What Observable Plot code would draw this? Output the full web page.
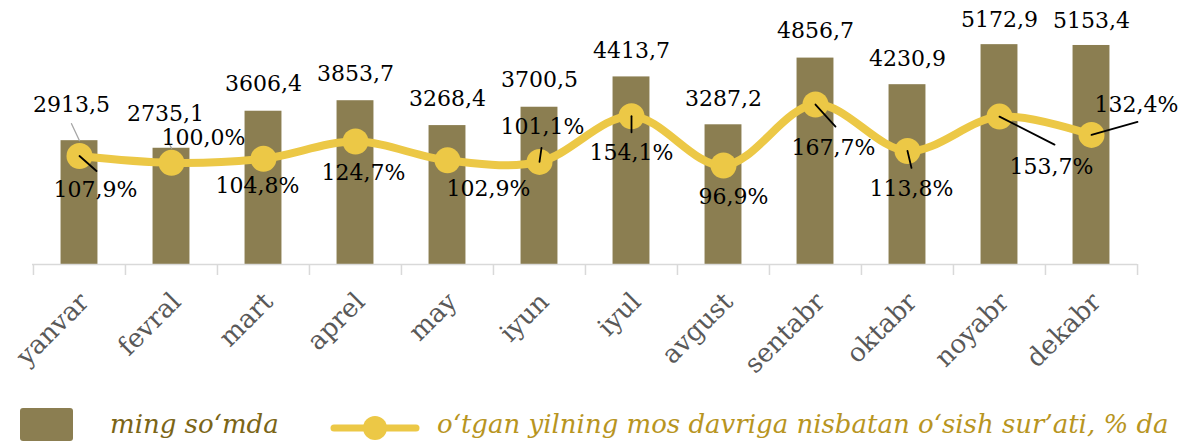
<!DOCTYPE html>
<html>
<head>
<meta charset="utf-8">
<script src="https://cdn.jsdelivr.net/npm/d3@7"></script>
<script src="https://cdn.jsdelivr.net/npm/@observablehq/plot@0.6"></script>
<style>
  html, body { margin: 0; padding: 0; background: #fff; }
  #wrap { position: relative; width: 1185px; height: 446px; overflow: hidden; }
  #chart { position: absolute; left: 0; top: 0; }
  .lg { position: absolute; font-family: "DejaVu Serif", serif; font-style: italic; font-size: 26px; line-height: 30px; white-space: nowrap; }
</style>
</head>
<body>
<div id="wrap">
  <div id="chart"></div>
  <div style="position:absolute;left:20px;top:408px;width:53px;height:33px;background:#8b7e51;border-radius:3px;"></div>
  <div class="lg" id="lg1" style="left:110px;top:409px;color:#7b6516;"></div>
  <svg style="position:absolute;left:330px;top:414px;" width="92" height="28">
    <line x1="4" y1="14" x2="86" y2="14" stroke="#ecc846" stroke-width="7" stroke-linecap="round"/>
    <circle cx="45" cy="14" r="12" fill="#ecc846"/>
  </svg>
  <div class="lg" id="lg2" style="left:437px;top:409px;color:#b8951f;"></div>
</div>
<script>
// ---- data ----
const months = ["yanvar", "fevral", "mart", "aprel", "may", "iyun", "iyul", "avgust", "sentabr", "oktabr", "noyabr", "dekabr"];
const values = [2913.5, 2735.1, 3606.4, 3853.7, 3268.4, 3700.5, 4413.7, 3287.2, 4856.7, 4230.9, 5172.9, 5153.4];
const growth = [107.9, 100.0, 104.8, 124.7, 102.9, 101.1, 154.1, 96.9, 167.7, 113.8, 153.7, 132.4];
const seriesBar = "ming so‘mda";
const seriesLine = "o‘tgan yilning mos davriga nisbatan o‘sish sur’ati, % da";

// ---- layout (label placement, pixels) ----
const barLabelOffset = [[-8, -36], [-6, -34], [0, -27], [0, -27], [0, -27], [0, -27], [0, -26], [0, -26], [0, -27], [0, -26], [0, -25], [0, -25]];
const barLeader = [[-8, -17], [-2, -4], null, null, null, null, null, null, null, null, null, null];
const pctLabelOffset = [[16, 34], [32, -25], [-6, 27], [8, 31], [41, 29], [3, -35], [0, 37], [10, 31], [18, 43], [4, 38], [52, 50], [45, -30]];
const pctLeader = [[17, 15], null, null, null, null, [2, -14], [0, 16], null, [20, 22], [4, 17], [55, 28], [46, -13]];

document.getElementById("lg1").textContent = seriesBar;
document.getElementById("lg2").textContent = seriesLine;

const W = 1185, H = 395;
const mL = 32, mR = 48, mT = 9, mB = H - 264;
const YMAX = 6000;
// secondary axis (percent) mapped onto the primary domain
const P0 = -18, P1 = 278;
const toPrimary = p => (p - P0) / (P1 - P0) * YMAX;

const rows = months.map((m, i) => ({m, v: values[i], g: growth[i], gy: toPrimary(growth[i]), i}));
const fmt = d => d3.format(".1f")(d).replace(".", ",");
const bw = (W - mL - mR) / months.length;
const font = "DejaVu Serif";
const lineShape = {draw(ctx, l) { ctx.moveTo(0, 0); ctx.lineTo(0, -l); }};

const marks = [
  Plot.barY(rows, {x: "m", y: "v", fill: "#8b7e51", insetLeft: (bw - 37) / 2, insetRight: (bw - 37) / 2}),
  Plot.ruleY([0], {stroke: "#d9d9d9", strokeWidth: 1.5}),
  Plot.axisX({label: null, tickSize: 11, tickFormat: () => "", dx: -bw / 2, stroke: "#d9d9d9", strokeWidth: 1.5}),
  Plot.axisX({label: null, ticks: ["dekabr"], tickSize: 11, tickFormat: () => "", dx: bw / 2, stroke: "#d9d9d9", strokeWidth: 1.5}),
  Plot.axisX({label: null, tickSize: 0, tickRotate: -45, tickPadding: 33, dx: 5, fontSize: 26, fontFamily: font, fill: "#595959"}),
  Plot.line(rows, {x: "m", y: "gy", stroke: "#ecc846", strokeWidth: 8, curve: "catmull-rom"}),
  Plot.dot(rows, {x: "m", y: "gy", r: 13, fill: "#ecc846"})
];

rows.forEach((r, i) => {
  const [bdx, bdy] = barLabelOffset[i];
  marks.push(Plot.text([r], {x: "m", y: "v", text: d => fmt(d.v), dx: bdx, dy: bdy, fontSize: 22, fontFamily: font, fill: "#000", lineAnchor: "middle"}));
  if (barLeader[i]) {
    const [lx, ly] = barLeader[i];
    marks.push(Plot.vector([r], {x: "m", y: "v", length: Math.hypot(lx, ly), rotate: Math.atan2(lx, -ly) * 180 / Math.PI, anchor: "start", shape: lineShape, stroke: "#a6a6a6", strokeWidth: 1.3}));
  }
  if (pctLeader[i]) {
    const [lx, ly] = pctLeader[i];
    marks.push(Plot.vector([r], {x: "m", y: "gy", length: Math.hypot(lx, ly), rotate: Math.atan2(lx, -ly) * 180 / Math.PI, anchor: "start", shape: lineShape, stroke: "#000", strokeWidth: 1.8}));
  }
  const [pdx, pdy] = pctLabelOffset[i];
  marks.push(Plot.text([r], {x: "m", y: "gy", text: d => fmt(d.g) + "%", dx: pdx, dy: pdy, fontSize: 22, fontFamily: font, fill: "#000", lineAnchor: "middle"}));
});

const chart = Plot.plot({
  width: W, height: H,
  marginLeft: mL, marginRight: mR, marginTop: mT, marginBottom: mB,
  style: {background: "transparent", fontFamily: font, overflow: "visible"},
  x: {domain: months, padding: 0},
  y: {domain: [0, YMAX], axis: null},
  marks
});
document.getElementById("chart").appendChild(chart);
</script>
</body>
</html>
